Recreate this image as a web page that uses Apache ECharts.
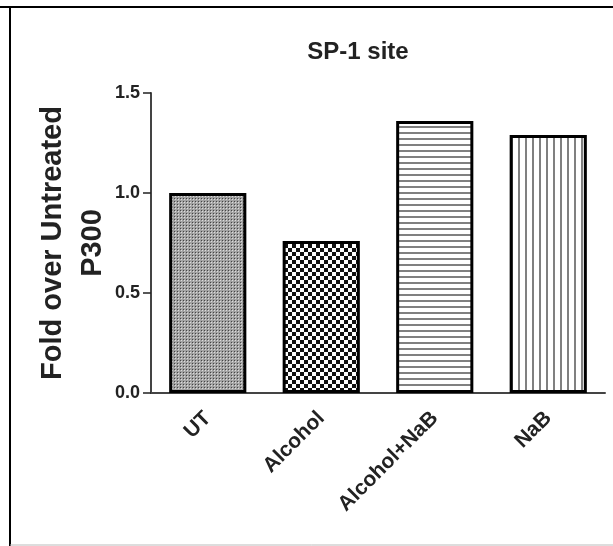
<!DOCTYPE html>
<html>
<head>
<meta charset="utf-8">
<script src="https://cdn.jsdelivr.net/npm/echarts@6/dist/echarts.min.js"></script>
<style>
html, body { margin: 0; padding: 0; background: #fff; }
#chart { width: 613px; height: 546px; }
</style>
</head>
<body>
<div id="chart"></div>
<script>
// data
let categories = ['UT', 'Alcohol', 'Alcohol+NaB', 'NaB'];
let foldValues = [1.0, 0.76, 1.36, 1.29];
let yTicks = [0, 0.5, 1.0, 1.5];

// fill patterns, one per bar
function makePattern(kind) {
    let c = document.createElement('canvas');
    let ctx = c.getContext('2d');
    if (kind === 'fine') {
        c.width = 3; c.height = 3;
        ctx.fillStyle = '#a2a2a2';
        ctx.fillRect(0, 0, 3, 3);
        ctx.fillStyle = '#444';
        ctx.fillRect(0, 0, 1, 1);
        ctx.fillStyle = '#dcdcdc';
        ctx.fillRect(1, 1, 1, 1);
    } else if (kind === 'checker') {
        c.width = 8; c.height = 8;
        ctx.fillStyle = '#fff';
        ctx.fillRect(0, 0, 8, 8);
        ctx.fillStyle = '#111';
        ctx.fillRect(0, 0, 4, 4);
        ctx.fillRect(4, 4, 4, 4);
    } else if (kind === 'hlines') {
        c.width = 6; c.height = 6;
        ctx.fillStyle = '#fff';
        ctx.fillRect(0, 0, 6, 6);
        ctx.fillStyle = '#808080';
        ctx.fillRect(0, 0, 6, 2);
    } else {
        c.width = 7; c.height = 7;
        ctx.fillStyle = '#fff';
        ctx.fillRect(0, 0, 7, 7);
        ctx.fillStyle = '#808080';
        ctx.fillRect(0, 0, 2, 7);
    }
    return { image: c, repeat: 'repeat' };
}
let patterns = ['fine', 'checker', 'hlines', 'vlines'];

let myChart = echarts.init(document.getElementById('chart'));
let option = {
    animation: false,
    backgroundColor: '#fff',
    title: {
        text: 'SP-1 site',
        left: 353,
        top: 35,
        textAlign: 'center',
        textStyle: { fontFamily: 'Liberation Sans', fontWeight: 'bold', fontSize: 24, color: '#222' }
    },
    graphic: [
        { type: 'line', shape: { x1: 0, y1: 7, x2: 613, y2: 7 }, style: { stroke: '#000', lineWidth: 2 } },
        { type: 'line', shape: { x1: 10, y1: 7, x2: 10, y2: 546 }, style: { stroke: '#000', lineWidth: 2 } },
        { type: 'line', shape: { x1: 10, y1: 545, x2: 613, y2: 545 }, style: { stroke: '#bbb', lineWidth: 1 } }
    ],
    grid: { left: 151, right: 8, top: 93, bottom: 153 },
    xAxis: {
        type: 'category',
        data: categories,
        axisLine: { lineStyle: { color: '#444', width: 2 } },
        axisTick: { alignWithLabel: true, length: 7, lineStyle: { color: '#222', width: 1.5 } },
        axisLabel: {
            rotate: 45, margin: 22, fontFamily: 'Liberation Sans', fontWeight: 'bold',
            fontSize: 21, color: '#222'
        }
    },
    yAxis: {
        type: 'value',
        min: yTicks[0],
        max: yTicks[yTicks.length - 1],
        interval: 0.5,
        name: 'Fold over Untreated\nP300',
        nameLocation: 'middle',
        nameGap: 38,
        nameMoveOverlap: false,
        nameTextStyle: { fontFamily: 'Liberation Sans', fontWeight: 'bold', fontSize: 29, color: '#222', lineHeight: 40 },
        axisLine: { show: true, lineStyle: { color: '#444', width: 2 } },
        axisTick: { show: true, length: 8, lineStyle: { color: '#222', width: 1.5 } },
        splitLine: { show: false },
        axisLabel: {
            fontFamily: 'Liberation Sans', fontWeight: 'bold', fontSize: 18, color: '#222', margin: 11,
            formatter: function (v) { return v.toFixed(1); }
        }
    },
    series: [{
        type: 'bar',
        barWidth: '68%',
        data: foldValues.map(function (v, i) {
            return {
                value: v,
                itemStyle: { color: makePattern(patterns[i]), borderColor: '#000', borderWidth: 3 }
            };
        })
    }]
};
myChart.setOption(option);
</script>
</body>
</html>
